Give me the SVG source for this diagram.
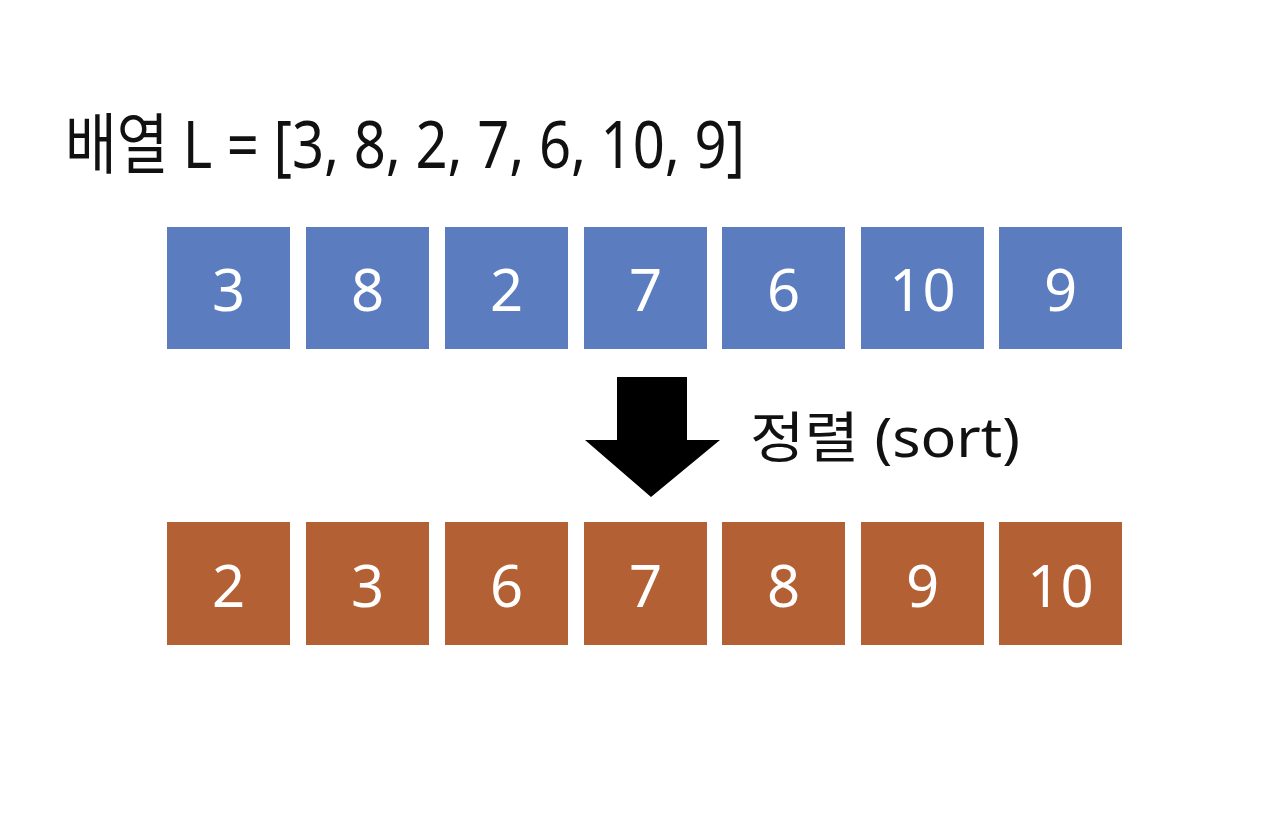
<svg xmlns="http://www.w3.org/2000/svg" width="1284" height="836" viewBox="0 0 1284 836">
<style>
.t{font-family:"Noto Sans","Noto Sans CJK KR","Liberation Sans",sans-serif;fill:#111}
.b{fill:#5b7dbf}
.o{fill:#b36134}
.n{font-family:"Noto Sans","Liberation Sans",sans-serif;font-size:58px;fill:#fff;text-anchor:middle}
</style>
<rect width="1284" height="836" fill="#fff"/>
<g id="title"><text class="t" x="65" y="168" font-size="66" textLength="680" lengthAdjust="spacingAndGlyphs">배열 L = [3, 8, 2, 7, 6, 10, 9]</text></g>
<g id="top-row">
<g id="t1"><rect class="b" x="167" y="227" width="123" height="122"/><text class="n" x="228.5" y="311">3</text></g>
<g id="t2"><rect class="b" x="306" y="227" width="123" height="122"/><text class="n" x="367.5" y="311">8</text></g>
<g id="t3"><rect class="b" x="445" y="227" width="123" height="122"/><text class="n" x="506.5" y="311">2</text></g>
<g id="t4"><rect class="b" x="584" y="227" width="123" height="122"/><text class="n" x="645.5" y="311">7</text></g>
<g id="t5"><rect class="b" x="722" y="227" width="123" height="122"/><text class="n" x="783.5" y="311">6</text></g>
<g id="t6"><rect class="b" x="861" y="227" width="123" height="122"/><text class="n" x="922.5" y="311">10</text></g>
<g id="t7"><rect class="b" x="999" y="227" width="123" height="122"/><text class="n" x="1060.5" y="311">9</text></g>
</g>
<g id="connectors">
<polygon points="617,377 687,377 687,440 720,440 651,497 585,440 617,440" fill="#000"/>
</g>
<g id="sort-label"><text class="t" x="750" y="457" font-size="55" textLength="270" lengthAdjust="spacingAndGlyphs">정렬 (sort)</text></g>
<g id="bottom-row">
<g id="b1"><rect class="o" x="167" y="522" width="123" height="123"/><text class="n" x="228.5" y="607">2</text></g>
<g id="b2"><rect class="o" x="306" y="522" width="123" height="123"/><text class="n" x="367.5" y="607">3</text></g>
<g id="b3"><rect class="o" x="445" y="522" width="123" height="123"/><text class="n" x="506.5" y="607">6</text></g>
<g id="b4"><rect class="o" x="584" y="522" width="123" height="123"/><text class="n" x="645.5" y="607">7</text></g>
<g id="b5"><rect class="o" x="722" y="522" width="123" height="123"/><text class="n" x="783.5" y="607">8</text></g>
<g id="b6"><rect class="o" x="861" y="522" width="123" height="123"/><text class="n" x="922.5" y="607">9</text></g>
<g id="b7"><rect class="o" x="999" y="522" width="123" height="123"/><text class="n" x="1060.5" y="607">10</text></g>
</g>
</svg>
